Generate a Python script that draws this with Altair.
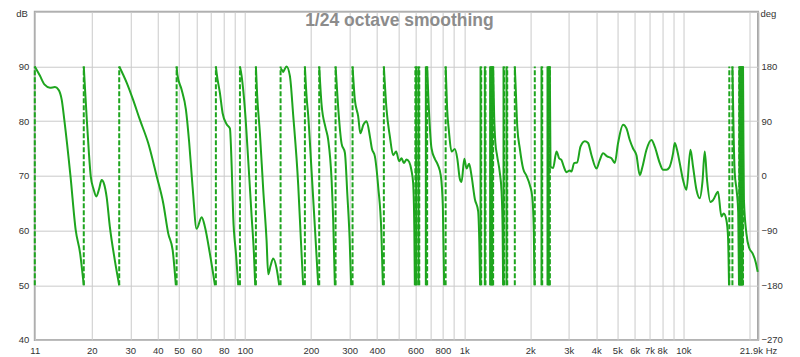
import altair as alt
import pandas as pd

# ---------------- data ----------------
# continuous phase segments (Hz, degrees) between wraps
segment_freqs = [
    [11, 11.6, 12.2, 12.9, 13.6, 14.1, 14.6, 15.0, 16.0, 16.9, 17.7, 18.3, 18.4],
    [18.4, 18.6, 19.0, 19.4, 19.8, 20.4, 21.0, 21.6, 22.2, 22.8, 23.4, 24.2, 25.5, 26.7],
    [26.7, 28.9, 30.9, 33.2, 36.2, 39.6, 42.4, 44.7, 46.8, 48.4],
    [48.8, 49.2, 51.4, 53.8, 55.7, 57.7, 60.2, 63.5, 65.7, 69.2, 73.0],
    [73.7, 74.3, 76.9, 79.1, 82.5, 85.4, 87.0, 88.4, 91.0, 93.2],
    [94.9, 96.6, 100.0, 103.5, 107.3, 109.9, 111.4],
    [112.2, 113.7, 117.0, 121.2, 125.5, 127.7, 130.9, 134.6, 139.4, 143.3],
    [145.4, 147.5, 149.5, 152.0, 154.9, 160.4, 166.0, 175.0, 180.0, 184.3],
    [187.7, 191.1, 194.3, 201.4, 208.6, 215.9],
    [218.2, 223.7, 233.3, 239.8, 248.5, 252.7, 257.2],
    [259.1, 266.3, 276.0, 285.7, 293.3, 300.2, 305.2],
    [309.7, 317.3, 328.5, 336.2, 347.0, 358.8, 371.5, 379.3, 391.5, 405.4, 419.2, 425.8],
    [430.2, 442.6, 458.2, 474.3, 489.5, 505.2, 518.1, 530.8, 546.1, 561.2, 574.2, 585.3, 592.6, 595.7],
    [677.9, 686.5, 709.9, 735.0, 758.5, 782.8, 799.4, 810.4],
    [823.3, 836.3, 851.4, 875.9, 906.8, 930.9, 955.6, 972.8, 1001.9, 1025.3, 1053.7, 1080.6,
     1118.7, 1158.1, 1172.8, 1182.7],
    [1355.7, 1370.0, 1387.4, 1413.8, 1454.5, 1480.7, 1497.8, 1505.7],
    [1702.4, 1720.4, 1747.7, 1794.2, 1857.4, 1924.9, 1992.8, 2045.8, 2078.3, 2093.6],
    [2458.4, 2476.6, 2545.1, 2637.7, 2710.6, 2779.8, 2847.7, 2929.6, 3032.9, 3087.5, 3172.9,
     3274.5, 3393.5, 3550.2, 3675.4, 3808.9, 4014.2, 4155.8, 4302.3, 4486.8, 4698.9, 4864.6,
     5036.1, 5307.6, 5500.4, 5694.4, 5895.2, 6109.4, 6324.8, 6506.6, 6785.7, 7151.5, 7403.7,
     7802.8, 8077.9, 8371.5, 8603.2, 8972.4, 9134.0, 9357.3, 9626.3, 9966, 10328, 10771,
     11069, 11471, 11876, 12217, 12515, 12821, 13286, 13654, 14390, 14913, 15277, 15716,
     15982, 16151],
    [16738, 16968, 17147, 17511, 17789, 17939],
    [18709, 18788, 18887, 19388, 19925, 20715, 21378, 21832],
]
segment_phases = [
    [180, 165, 150, 145, 146, 142, 125, 92, 0, -89, -127, -172, -180],
    [180, 150, 92, 40, -1, -22, -34, -22, -7, -14, -35, -84, -139, -180],
    [180, 153, 125, 92, 54, -1, -45, -95, -122, -180],
    [180, 166, 142, 109, 54, -18, -87, -68, -84, -128, -180],
    [180, 169, 136, 103, 85, 78, 15, -67, -128, -180],
    [180, 164, 109, 26, -67, -128, -180],
    [180, 133, 71, -23, -106, -162, -148, -136, -152, -180],
    [177, 174, 171, 176, 180, 164, 100, -15, -106, -180],
    [180, 130, 100, 7, -86, -180],
    [180, 117, 79, 59, -7, -73, -180],
    [180, 112, 53, 38, -32, -102, -180],
    [180, 125, 98, 70, 84, 90, 65, 45, 32, -18, -94, -180],
    [180, 109, 65, 34, 40, 24, 29, 21, 27, 23, 10, -12, -90, -180],
    [180, 130, 45, 28, 18, 0, -50, -180],
    [180, 110, 75, 40, 44, 28, -5, -10, 28, 12, 20, 0, -38, -58, -110, -180],
    [180, 100, 55, 33, 5, -25, -90, -180],
    [180, 140, 80, 45, 12, 0, -15, -35, -90, -180],
    [180, 15, 13, 40, 29, 26, 15, 6, 9, 7, 21, 22, 48, 57, 54, 34, 12, 26, 37, 32, 29, 21,
     54, 84, 78, 59, 45, 34, 1, 15, 43, 59, 48, 21, 10, 10, 13, 37, 54, 43, 21, -7, -23, 43,
     15, -23, -37, -10, 40, -7, -43, -40, -26, -67, -62, -73, -100, -180],
    [180, 60, 5, -25, -60, -180],
    [180, 60, -40, -95, -118, -128, -142, -158],
]
# near-instant full-range drops (solid verticals)
jump_freqs = [603.9, 619.4, 668.7, 1187.7, 1242.5, 1313.6, 1327.5, 1341.5, 1512.1, 1560.5,
              2253.3, 2399.8, 2432.8, 18015, 18167, 18320, 18455, 18591]
# wrap connectors (dashed verticals from -180 to +180)
wrap_freqs = [11, 18.4, 26.7, 48.8, 73.7, 94.9, 112.2, 145.4, 187.7, 218.2, 259.1, 309.7,
              430.2, 599, 608, 624, 673, 677.9, 823.3, 1196, 1251, 1323, 1337, 1351, 1355.7,
              1523, 1572, 1702.4, 2100, 2270, 2417, 2450, 2458.4, 16200, 16738, 17990,
              18140, 18290, 18450, 18590, 18709]

x_grid = [11, 20, 30, 40, 50, 60, 70, 80, 90, 100, 200, 300, 400, 500, 600, 700, 800, 900,
          1000, 2000, 3000, 4000, 5000, 6000, 7000, 8000, 9000, 10000, 20000, 21900]
x_unlabeled = [70, 90, 500, 700, 900, 9000, 20000]
deg_ticks = [-270, -180, -90, 0, 90, 180, 270]

title_text = "1/24 octave smoothing"
GREEN = "#1ea51e"

# ---------------- tables ----------------
rows = []
for s, (fs, ps) in enumerate(zip(segment_freqs, segment_phases)):
    for i, (f, p) in enumerate(zip(fs, ps)):
        rows.append({"seg": s, "i": i, "f": f, "p": p})
curve = pd.DataFrame(rows)
jumps = pd.DataFrame({"f": jump_freqs, "lo": -180, "hi": 180})
wraps = pd.DataFrame({"f": wrap_freqs, "lo": -180, "hi": 180})
ticks_df = pd.DataFrame({"p": deg_ticks})

W, H = 723.5, 328.3

xscale = alt.Scale(type="log", domain=[11, 21900], nice=False)
yscale = alt.Scale(domain=[-270, 270], nice=False, zero=False)

label_expr = (
    "datum.value == 11 ? '11' : datum.value == 21900 ? '21.9k Hz' : "
    f"indexof({x_unlabeled}, datum.value) >= 0 ? '' : "
    "datum.value >= 1000 ? format(datum.value / 1000, 'd') + 'k' : format(datum.value, 'd')"
)
xaxis = alt.Axis(values=x_grid, labelExpr=label_expr, title=None, labelOverlap=False,
                 labelFlush=False, grid=True, labelPadding=6)
xenc = alt.X("f:Q", scale=xscale, axis=xaxis)

left_axis = alt.Axis(
    values=deg_ticks, orient="left", grid=True,
    labelExpr="datum.value >= 270 ? '' : format(datum.value / 9 + 70, 'd')",
    title="dB", titleAngle=0, titleAlign="left", titleBaseline="top",
    titleX=-19, titleY=-3.7, titleFontWeight="normal", titleFontSize=9.5,
    titleColor="#333333", labelPadding=6,
)
right_axis = alt.Axis(
    values=deg_ticks, orient="right", grid=False,
    labelExpr="datum.value >= 270 ? '' : format(datum.value, 'd')",
    title="deg", titleAngle=0, titleAlign="left", titleBaseline="top",
    titleX=2, titleY=-3.7, titleFontWeight="normal", titleFontSize=9.5,
    titleColor="#333333", labelPadding=3,
)

line = alt.Chart(curve).mark_line(color=GREEN, strokeWidth=2, interpolate="monotone").encode(
    x=xenc,
    y=alt.Y("p:Q", scale=yscale, axis=left_axis),
    detail="seg:N",
    order="i:Q",
)
jump_rules = alt.Chart(jumps).mark_rule(color=GREEN, strokeWidth=2).encode(
    x=xenc, y=alt.Y("lo:Q", scale=yscale, axis=None), y2="hi:Q"
)
wrap_rules = alt.Chart(wraps).mark_rule(color=GREEN, strokeWidth=2, strokeDash=[5, 2]).encode(
    x=xenc, y=alt.Y("lo:Q", scale=yscale, axis=None), y2="hi:Q"
)
right = alt.Chart(ticks_df).mark_point(opacity=0).encode(
    y=alt.Y("p:Q", scale=yscale, axis=right_axis)
)
title = alt.Chart(pd.DataFrame({"t": [title_text]})).mark_text(
    font="Liberation Sans", fontSize=17.5, fontWeight="bold", color="#8c8c8c", baseline="middle"
).encode(text="t:N", x=alt.value(W / 2 + 3), y=alt.value(9.5))

chart = (
    alt.layer(line, jump_rules, wrap_rules, right, title)
    .resolve_axis(y="independent")
    .properties(width=W, height=H, autosize=alt.AutoSizeParams(type="none"),
                padding={"left": 26.8, "top": 3.7, "right": 34, "bottom": 16})
    .configure_view(stroke="#a8a8a8", strokeWidth=2)
    .configure_axis(
        gridColor="#cacaca", gridWidth=1, domain=False, ticks=False,
        labelFont="Liberation Sans", labelFontSize=9.5, labelColor="#333333",
        titleFont="Liberation Sans",
    )
)

chart.save("out.html", embed_options={"renderer": "svg", "actions": False})
